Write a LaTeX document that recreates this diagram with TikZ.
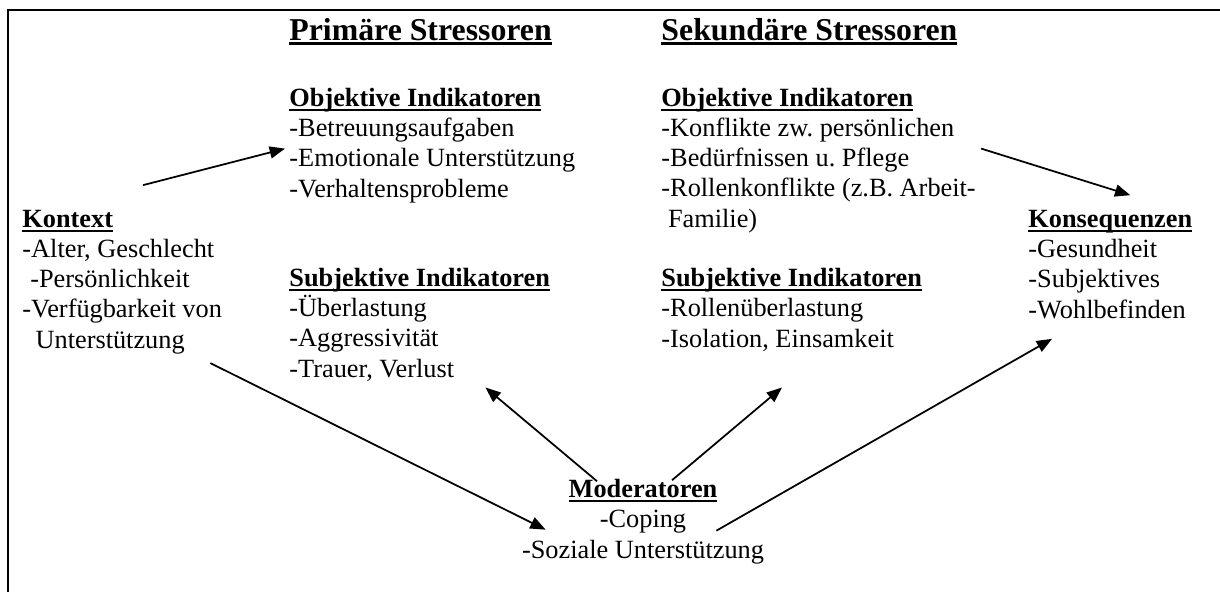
\documentclass[tikz,border=0pt]{standalone}
\usepackage{fontspec}
\setmainfont{Liberation Serif}
\usepackage{tikz}
\usetikzlibrary{arrows.meta,positioning,calc}

\newcommand{\ulkopf}[1]{\leavevmode\setbox0\hbox{\bfseries #1}\rlap{\rule[-1.9pt]{\wd0}{1pt}}\box0}
\newcommand{\ultitel}[1]{\leavevmode\setbox0\hbox{\bfseries #1}\rlap{\rule[-2.4pt]{\wd0}{1.4pt}}\box0}

\begin{document}
\begin{tikzpicture}[
  x=0.456pt, y=-0.456pt,
  font=\fontsize{12}{13.7}\selectfont\frenchspacing,
  liste/.style={align=left, inner sep=0pt, anchor=base west},
  titel/.style={inner sep=0pt, anchor=base west, font=\fontsize{14.5}{16}\selectfont},
  pfeil/.style={-{Triangle[length=7pt,width=5.5pt]}, line width=0.8pt},
  rahmen/.style={line width=1.1pt}
]
\useasboundingbox (0,0) rectangle (1220,592);

% Rahmen
\draw[rahmen] (1220,10) -- (8,10) -- (8,592);

% Ueberschriften
\node[titel] (primTitel) at (289,40) {\ultitel{Primäre Stressoren}};
\node[titel] (sekTitel) at (661,40) {\ultitel{Sekundäre Stressoren}};

% Kontext (base = letzte Zeile)
\node[liste] (kontext) at (22,348)
  {\ulkopf{Kontext}\\-Alter, Geschlecht\\\hspace*{3.6pt}-Persönlichkeit\\-Verfügbarkeit von\\\hspace*{6pt}Unterstützung};

% Primaere Stressoren
\node[liste] (primObj) at (289,197)
  {\ulkopf{Objektive Indikatoren}\\-Betreuungsaufgaben\\-Emotionale Unterstützung\\-Verhaltensprobleme};
\node[liste] (primSubj) at (289,377)
  {\ulkopf{Subjektive Indikatoren}\\-Überlastung\\-Aggressivität\\-Trauer, Verlust};

% Sekundaere Stressoren
\node[liste] (sekObj) at (661,227)
  {\ulkopf{Objektive Indikatoren}\\-Konflikte zw. persönlichen\\-Bedürfnissen u. Pflege\\-Rollenkonflikte (z.B. Arbeit-\\\hspace*{3pt}Familie)};
\node[liste] (sekSubj) at (661,347)
  {\ulkopf{Subjektive Indikatoren}\\-Rollenüberlastung\\-Isolation, Einsamkeit};

% Konsequenzen
\node[liste] (konseq) at (1028,318)
  {\ulkopf{Konsequenzen}\\-Gesundheit\\-Subjektives\\-Wohlbefinden};

% Moderatoren
\node[liste, align=center, anchor=base] (moder) at (643,558)
  {\ulkopf{Moderatoren}\\-Coping\\-Soziale Unterstützung};

% Pfeile
\draw[pfeil] ($(kontext.north west)+(121,-25)$) -- ($(primObj.west)+(-4,3)$);
\draw[pfeil] ($(sekObj.east)+(5,-12)$) -- ($(konseq.north)+(20,-15)$);
\draw[pfeil] ($(kontext.south east)+(-12,9)$) -- ($(moder.west)+(24,8)$);
\draw[pfeil] ($(moder.north)+(-46,2)$) -- ($(primSubj.south east)+(-65,6)$);
\draw[pfeil] ($(moder.north)+(29,1)$) -- ($(sekSubj.south west)+(121,36)$);
\draw[pfeil] ($(moder.east)+(-48,9)$) -- ($(konseq.south west)+(24,20)$);

\end{tikzpicture}
\end{document}
